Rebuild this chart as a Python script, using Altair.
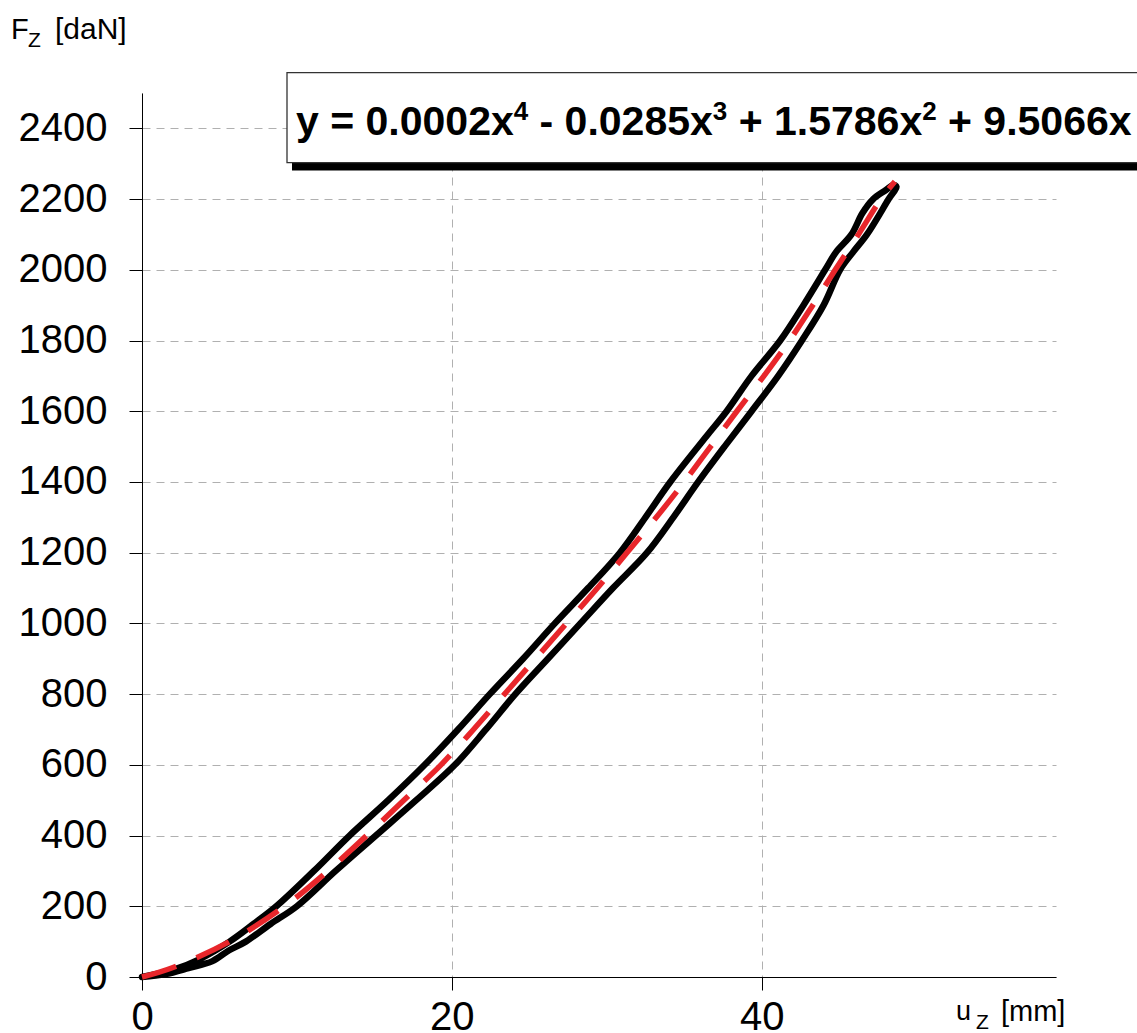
import altair as alt
import pandas as pd

# ---- data ----
# loading branch (lower / right curve), going up
lower_u = [0, 1.5, 3.0, 4.55, 5.6, 6.7, 8.3, 10.0, 12.5, 15.1, 17.7, 20.2, 22.2, 24.1,
           26.2, 28.3, 30.4, 32.6, 34.3, 35.9, 37.6, 39.35, 41.07, 42.6, 44.0, 45.06,
           45.9, 46.8, 48.2, 48.7]
lower_f = [0, 8, 25, 45, 75, 100, 150, 200, 300, 400, 500, 600, 700, 800,
           900, 1000, 1100, 1200, 1300, 1400, 1500, 1600, 1700, 1800, 1900, 2000,
           2050, 2100, 2200, 2235]
# unloading branch (upper / left curve), coming down
upper_u = [48.5, 48.0, 47.2, 46.5, 45.8, 44.8, 44.1, 42.7, 41.2, 39.35, 37.74, 36.45,
           34.1, 32.5, 30.85, 28.8, 26.65, 24.6, 22.45, 20.4, 18.25, 15.9, 13.4, 11.1,
           8.67, 7.2, 5.65, 3.7, 2.0, 0]
upper_f = [2240, 2225, 2200, 2160, 2100, 2050, 2000, 1900, 1800, 1700, 1600, 1530,
           1400, 1300, 1200, 1100, 1000, 900, 800, 700, 600, 500, 400, 300,
           200, 150, 100, 50, 20, 0]
# fitted polynomial trend line (red dashed)
fit_u = [0, 2.0, 5.65, 9.2, 12.0, 14.5, 16.9, 19.3, 21.4, 23.4, 25.4, 27.4, 29.4,
         31.3, 33.2, 35.0, 36.7, 38.4, 40.15, 41.8, 43.3, 44.75, 46.25, 47.7, 48.6]
fit_f = [0, 27, 100, 200, 300, 400, 500, 600, 700, 800, 900, 1000, 1100,
         1200, 1300, 1400, 1500, 1600, 1700, 1800, 1900, 2000, 2100, 2200, 2250]

x_ticks = [0, 20, 40]
y_ticks = list(range(0, 2401, 200))
x_domain = [0, 59]
y_domain = [0, 2500]

# equation pieces: (text, is_superscript)
eq_parts = [("y = 0.0002x", False), ("4", True), (" - 0.0285x", False), ("3", True),
            (" + 1.5786x", False), ("2", True), (" + 9.5066x", False)]

# ---- layout ----
LEFT, TOP = 142, 93
W, H = 914, 884
FONT = "Liberation Sans"

loop = pd.DataFrame({
    "u": lower_u + upper_u,
    "F": lower_f + upper_f,
    "i": list(range(len(lower_u) + len(upper_u))),
})
fit = pd.DataFrame({"u": fit_u, "F": fit_f, "i": list(range(len(fit_u)))})
dummy = pd.DataFrame({"a": [0]})

xscale = alt.Scale(domain=x_domain, nice=False, zero=False)
yscale = alt.Scale(domain=y_domain, nice=False)

common_axis = dict(
    title=None, grid=True, gridDash=[8, 6], gridColor="#b0b0b0", gridWidth=1,
    domainColor="black", domainWidth=1, tickColor="black", tickWidth=1, tickSize=13,
    labelFont=FONT, labelFontSize=40, labelColor="black", format="d",
    labelFlush=False, labelOverlap=False,
)
xaxis = alt.Axis(values=x_ticks, labelPadding=7, **common_axis)
yaxis = alt.Axis(values=y_ticks, labelPadding=22, **common_axis)

loop_layer = alt.Chart(loop).mark_line(
    color="black", strokeWidth=6.5, strokeJoin="round", strokeCap="round",
    interpolate="catmull-rom",
).encode(
    x=alt.X("u:Q", scale=xscale, axis=xaxis),
    y=alt.Y("F:Q", scale=yscale, axis=yaxis),
    order=alt.Order("i:Q"),
)

fit_layer = alt.Chart(fit).mark_line(
    color="#e8262b", strokeWidth=5.5, strokeDash=[36, 22], interpolate="catmull-rom",
).encode(
    x=alt.X("u:Q", scale=xscale),
    y=alt.Y("F:Q", scale=yscale),
    order=alt.Order("i:Q"),
)

shadow = alt.Chart(dummy).mark_rect(color="black").encode(
    x=alt.value(292 - LEFT), x2=alt.value(1170 - LEFT),
    y=alt.value(80 - TOP), y2=alt.value(170.5 - TOP),
)
box = alt.Chart(dummy).mark_rect(fill="white", stroke="#333333", strokeWidth=1.3).encode(
    x=alt.value(287 - LEFT), x2=alt.value(1170 - LEFT),
    y=alt.value(72.7 - TOP), y2=alt.value(162.7 - TOP),
)


def label(txt, x, y, size, bold=False):
    return alt.Chart(dummy).mark_text(
        text=txt, align="left", baseline="alphabetic", font=FONT,
        fontSize=size, fontWeight="bold" if bold else "normal", color="black",
    ).encode(x=alt.value(x - LEFT), y=alt.value(y - TOP))


# Arial-bold advance widths (per em) to place the superscripts
ADV = {"y": 0.556, " ": 0.278, "=": 0.584, ".": 0.278, "x": 0.556, "-": 0.333, "+": 0.584}
MAIN, SUP = 41, 26
eq_layers = []
cx = 296.0
for txt, sup in eq_parts:
    size = SUP if sup else MAIN
    base_y = 120 if sup else 135
    stripped = txt.lstrip(" ")
    lead = (len(txt) - len(stripped)) * ADV[" "] * size
    eq_layers.append(label(stripped, cx + lead, base_y, size, bold=True))
    cx += sum(ADV.get(c, 0.556) for c in txt) * size

titles = [
    label("F", 11, 39, 29),
    label("Z", 28, 47, 21),
    label("[daN]", 55, 39, 30),
    label("u", 956, 1020, 27),
    label("Z", 976, 1029, 21),
    label("[mm]", 1001, 1021, 29),
]

chart = alt.layer(loop_layer, fit_layer, shadow, box, *eq_layers, *titles).properties(
    width=W, height=H,
    padding={"left": LEFT, "top": TOP, "right": 1137 - LEFT - W, "bottom": 1033 - TOP - H},
    autosize=alt.AutoSizeParams(type="none"),
    background="white",
).configure_view(strokeWidth=0)

chart.save("out.html", embed_options={"renderer": "svg", "actions": False})
